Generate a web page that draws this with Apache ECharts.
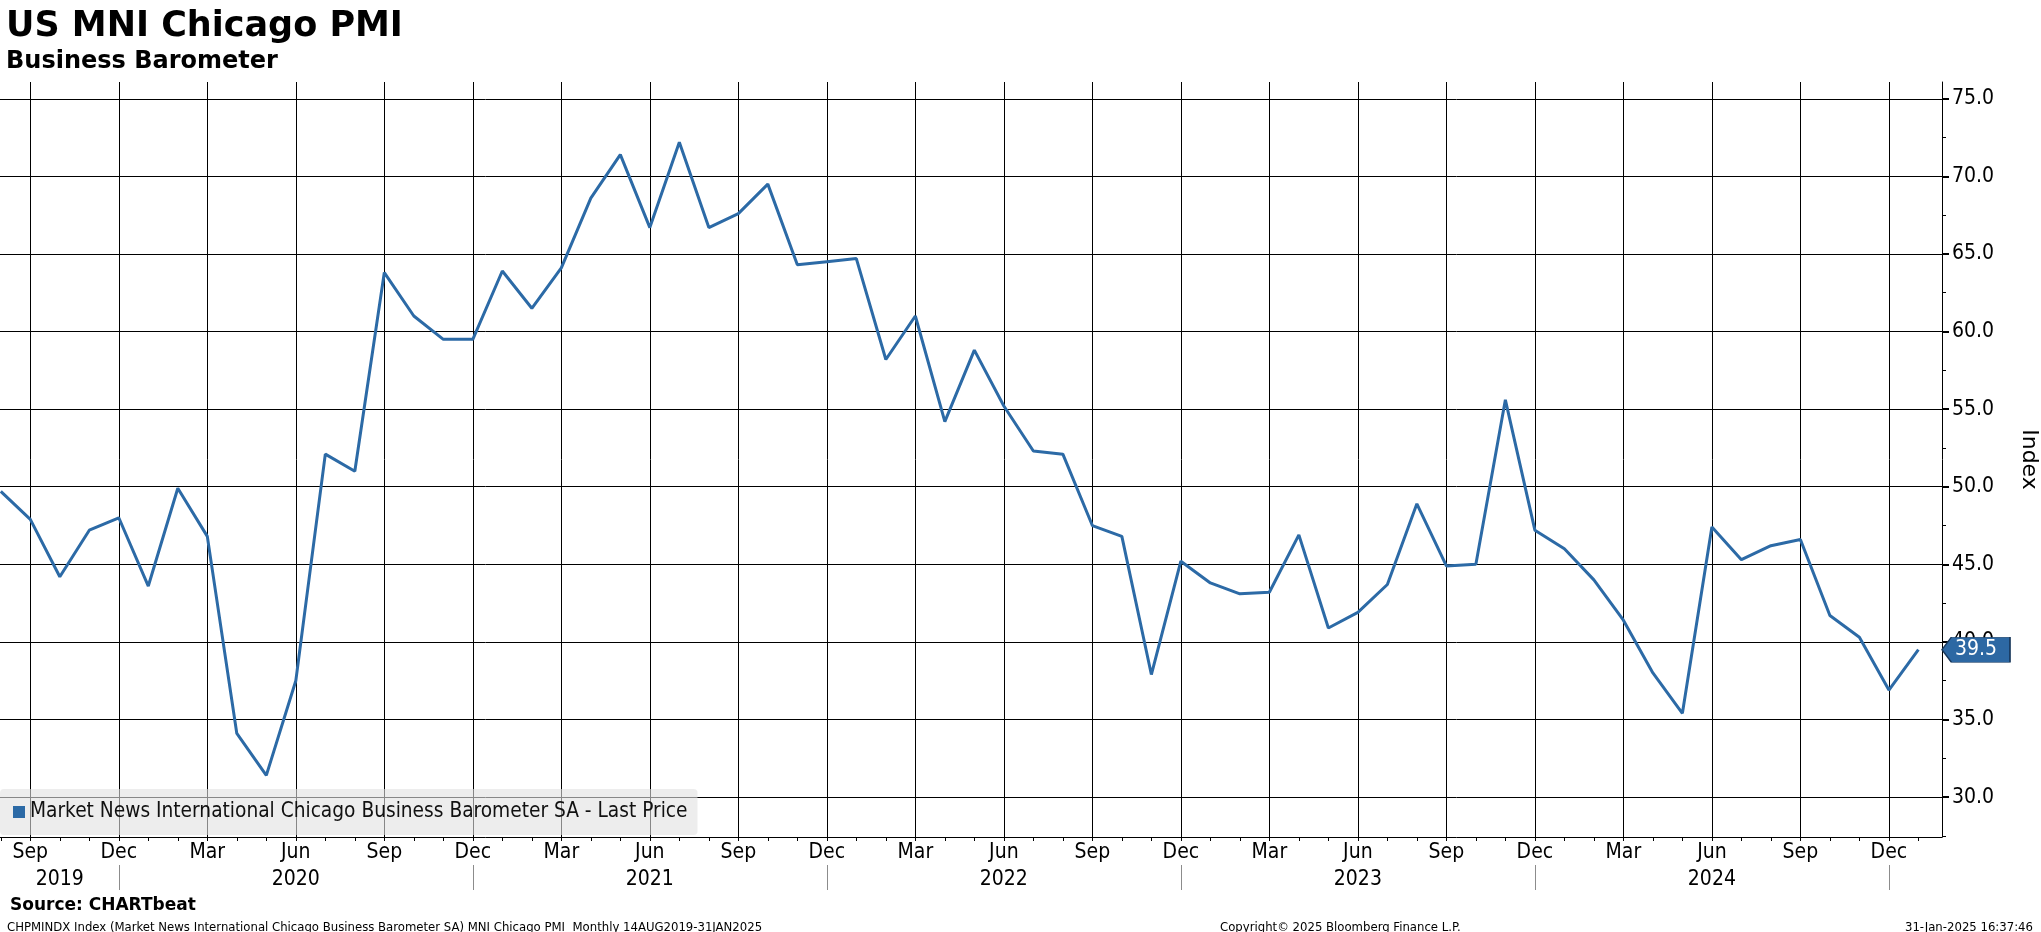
<!DOCTYPE html>
<html>
<head>
<meta charset="utf-8">
<style>
  html, body { margin: 0; padding: 0; background: #ffffff; }
  #chart { width: 2041px; height: 932px; }
</style>
<script src="https://cdn.jsdelivr.net/npm/echarts@6/dist/echarts.min.js"></script>
</head>
<body>
<div id="chart"></div>
<script>
// ---------------- DATA ----------------
const months = [
  'Aug 2019','Sep 2019','Oct 2019','Nov 2019','Dec 2019',
  'Jan 2020','Feb 2020','Mar 2020','Apr 2020','May 2020','Jun 2020','Jul 2020','Aug 2020','Sep 2020','Oct 2020','Nov 2020','Dec 2020',
  'Jan 2021','Feb 2021','Mar 2021','Apr 2021','May 2021','Jun 2021','Jul 2021','Aug 2021','Sep 2021','Oct 2021','Nov 2021','Dec 2021',
  'Jan 2022','Feb 2022','Mar 2022','Apr 2022','May 2022','Jun 2022','Jul 2022','Aug 2022','Sep 2022','Oct 2022','Nov 2022','Dec 2022',
  'Jan 2023','Feb 2023','Mar 2023','Apr 2023','May 2023','Jun 2023','Jul 2023','Aug 2023','Sep 2023','Oct 2023','Nov 2023','Dec 2023',
  'Jan 2024','Feb 2024','Mar 2024','Apr 2024','May 2024','Jun 2024','Jul 2024','Aug 2024','Sep 2024','Oct 2024','Nov 2024','Dec 2024',
  'Jan 2025'
];
const pmiValues = [
  49.7, 47.9, 44.2, 47.2, 48.0,
  43.6, 49.9, 46.8, 34.1, 31.4, 37.5, 52.1, 51.0, 63.8, 61.0, 59.5, 59.5,
  63.9, 61.5, 64.1, 68.6, 71.4, 66.7, 72.2, 66.7, 67.6, 69.5, 64.3, 64.5,
  64.7, 58.2, 61.0, 54.2, 58.8, 55.2, 52.3, 52.1, 47.5, 46.8, 37.9, 45.2,
  43.8, 43.1, 43.2, 46.9, 40.9, 41.9, 43.7, 48.9, 44.9, 45.0, 55.6, 47.2,
  46.0, 44.0, 41.4, 38.0, 35.4, 47.4, 45.3, 46.2, 46.6, 41.7, 40.3, 36.9,
  39.5
];
const quarterMonths = ['Mar', 'Jun', 'Sep', 'Dec'];
const yearLabels = ['2019', '2020', '2021', '2022', '2023', '2024'];
const yTickValues = [30, 35, 40, 45, 50, 55, 60, 65, 70, 75];
const yMinorTickValues = [27.5, 32.5, 37.5, 42.5, 47.5, 52.5, 57.5, 62.5, 67.5, 72.5];
const seriesName = 'Market News International Chicago Business Barometer SA - Last Price';

// ---------------- DERIVED ----------------
const abbr = m => m.slice(0, 3);
const monthIdx = months.map((m, i) => i);
const quarterIdx = monthIdx.filter(i => quarterMonths.includes(abbr(months[i])));
const decIdx = monthIdx.filter(i => abbr(months[i]) === 'Dec');
const yearPos = yearLabels.map(y => {
  const idxs = monthIdx.filter(i => months[i].endsWith(y));
  const dec = idxs.find(i => abbr(months[i]) === 'Dec');
  const end = dec !== undefined ? dec : idxs[idxs.length - 1];
  const prevDec = monthIdx.find(i => months[i] === 'Dec ' + (parseInt(y) - 1));
  const start = prevDec !== undefined ? prevDec : 0;
  return (start + end) / 2;
});
const seriesData = pmiValues.map((v, i) => [i, v]);
const lastValue = pmiValues[pmiValues.length - 1];

const X_MIN = -0.027, X_MAX = 65.8;
const Y_MIN = 27.43, Y_MAX = 76.08;
const COND = "'DejaVu Sans Condensed', 'DejaVu Sans', sans-serif";
const BOLD = "'DejaVu Sans', sans-serif";
const LINE_BLUE = '#2c6aa6';

const chart = echarts.init(document.getElementById('chart'), null, { renderer: 'canvas' });

const gridRect = { left: 0, right: 99, top: 82, bottom: 95, containLabel: false, outerBoundsMode: 'none' };
const hiddenX = gi => ({
  type: 'value', gridIndex: gi, min: X_MIN, max: X_MAX, position: 'bottom',
  axisLine: { show: false, onZero: false }, axisTick: { show: false }, axisLabel: { show: false },
  splitLine: { show: false }
});
const hiddenY = gi => ({
  type: 'value', gridIndex: gi, min: Y_MIN, max: Y_MAX, position: 'right',
  axisLine: { show: false, onZero: false }, axisTick: { show: false }, axisLabel: { show: false },
  splitLine: { show: false }
});

chart.setOption({
  animation: false,
  backgroundColor: '#ffffff',
  title: [
    { text: 'US MNI Chicago PMI', left: 1, top: 4,
      textStyle: { fontFamily: BOLD, fontWeight: 'bold', fontSize: 35, color: '#000' } },
    { text: 'Business Barometer', left: 1, top: 45,
      textStyle: { fontFamily: BOLD, fontWeight: 'bold', fontSize: 24, color: '#000' } },
    { text: 'Source: CHARTbeat', left: 5, top: 892,
      textStyle: { fontFamily: BOLD, fontWeight: 'bold', fontSize: 17, color: '#000' } },
    { text: 'CHPMINDX Index (Market News International Chicago Business Barometer SA) MNI Chicago PMI  Monthly 14AUG2019-31JAN2025',
      left: 2, top: 916, textStyle: { fontFamily: COND, fontWeight: 'normal', fontSize: 13, color: '#000' } },
    { text: 'Copyright\u00a9 2025 Bloomberg Finance L.P.', left: 1215, top: 916,
      textStyle: { fontFamily: COND, fontWeight: 'normal', fontSize: 13, color: '#000' } },
    { text: '31-Jan-2025 16:37:46', right: 3, top: 916,
      textStyle: { fontFamily: COND, fontWeight: 'normal', fontSize: 13, color: '#000' } }
  ],
  legend: {
    show: true, left: 0, top: 789, orient: 'horizontal',
    padding: [11, 10, 11, 13],
    backgroundColor: 'rgba(225,225,225,0.6)', borderRadius: 4,
    itemWidth: 12, itemHeight: 12, itemGap: 5,
    data: [{ name: seriesName, icon: 'rect' }],
    textStyle: { fontFamily: COND, fontSize: 20.7, color: '#111', lineHeight: 24 }
  },
  grid: [
    Object.assign({}, gridRect),
    Object.assign({}, gridRect),
    Object.assign({}, gridRect)
  ],
  xAxis: [
    { // main axis: quarterly labels + gridlines
      type: 'value', gridIndex: 0, min: X_MIN, max: X_MAX, position: 'bottom',
      axisLine: { show: true, onZero: false, lineStyle: { color: '#000', width: 1 } },
      axisTick: { show: true, length: 0, customValues: quarterIdx, lineStyle: { color: '#000' } },
      axisLabel: { show: true, customValues: quarterIdx, margin: 5,
        formatter: v => abbr(months[Math.round(v)] || ''),
        fontFamily: COND, fontSize: 21, color: '#000' },
      splitLine: { show: true, lineStyle: { color: '#000', width: 1 } }
    },
    Object.assign(hiddenX(1), { // monthly small ticks
      axisTick: { show: true, inside: false, length: 4, customValues: monthIdx, lineStyle: { color: '#000', width: 1 } }
    }),
    Object.assign(hiddenX(2), { // years row
      offset: 28,
      axisTick: { show: true, inside: false, length: 25, customValues: decIdx, lineStyle: { color: '#8c8c8c', width: 1 } },
      axisLabel: { show: true, customValues: yearPos, margin: 4,
        formatter: v => { const k = yearPos.findIndex(p => Math.abs(p - v) < 1e-6); return k >= 0 ? yearLabels[k] : ''; },
        fontFamily: COND, fontSize: 21, color: '#000' }
    })
  ],
  yAxis: [
    {
      type: 'value', gridIndex: 0, position: 'right', min: Y_MIN, max: Y_MAX,
      name: 'Index', nameLocation: 'middle', nameRotate: -90, nameGap: 76,
      nameTextStyle: { fontFamily: BOLD, fontSize: 22, color: '#000' },
      axisLine: { show: true, onZero: false, lineStyle: { color: '#000', width: 1 } },
      axisTick: { show: true, inside: false, length: 7, customValues: yTickValues, lineStyle: { color: '#000', width: 2 } },
      axisLabel: { show: true, customValues: yTickValues, margin: 10,
        formatter: v => Number(v).toFixed(1),
        fontFamily: COND, fontSize: 21, color: '#000' },
      splitLine: { show: true, lineStyle: { color: '#000', width: 1 } }
    },
    Object.assign(hiddenY(1), { // minor ticks
      axisTick: { show: true, inside: false, length: 4, customValues: yMinorTickValues, lineStyle: { color: '#000', width: 1 } }
    }),
    hiddenY(2)
  ],
  series: [
    {
      name: seriesName, type: 'line', xAxisIndex: 0, yAxisIndex: 0,
      data: seriesData, symbol: 'none', smooth: false,
      lineStyle: { color: LINE_BLUE, width: 3 },
      itemStyle: { color: LINE_BLUE },
      z: 3,
      markPoint: {
        symbol: 'path://M0,12 L9,0 L66,0 L66,24 L9,24 Z',
        symbolSize: [68, 25], symbolKeepAspect: false, symbolOffset: ['50%', 0],
        itemStyle: { color: '#2d68a3', borderColor: '#17375a', borderWidth: 1 },
        label: { show: true, position: 'inside', offset: [0, 0],
          formatter: p => Number(p.value).toFixed(1),
          fontFamily: COND, fontSize: 21, color: '#ffffff' },
        data: [{ coord: [X_MAX, lastValue], value: lastValue }]
      }
    }
  ]
});
</script>
</body>
</html>
